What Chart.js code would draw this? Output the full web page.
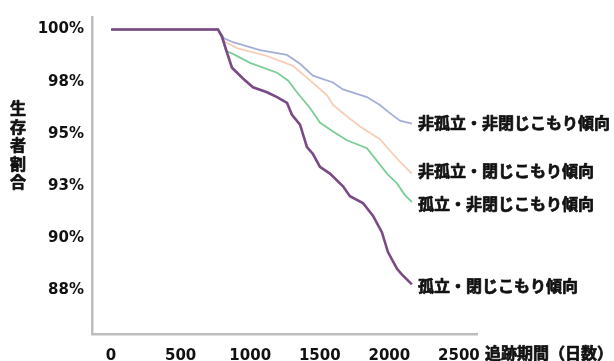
<!DOCTYPE html>
<html>
<head>
<meta charset="utf-8">
<script src="https://cdn.jsdelivr.net/npm/chart.js@4/dist/chart.umd.min.js"></script>
<style>
html,body{margin:0;padding:0;background:#fff;}
#wrap{width:614px;height:361px;position:relative;}
</style>
</head>
<body>
<div id="wrap"><canvas id="c" width="614" height="361"></canvas></div>
<script>
// ---- data ----
const seriesNames = ['孤立・閉じこもり傾向', '非孤立・非閉じこもり傾向', '非孤立・閉じこもり傾向', '孤立・非閉じこもり傾向'];

const isoHomeDays = [0,769,797,841,869,948,1020,1121,1193,1265,1300,1358,1408,1451,1501,1573,1667,1717,1810,1882,1947,1990,2055,2091,2162];
const isoHomeVals = [100,100,99.67,98.73,98.17,97.65,97.23,96.99,96.76,96.48,95.91,95.44,94.36,94.03,93.42,93.09,92.48,92.01,91.68,91.07,90.27,89.33,88.53,88.25,87.78];

const nonNonDays = [0,769,812,876,1070,1264,1358,1451,1595,1667,1839,1932,2004,2076,2162];
const nonNonVals = [100,100,99.58,99.39,99.01,98.78,98.36,97.79,97.46,97.13,96.76,96.38,95.99,95.63,95.49];

const nonHomeDays = [0,769,812,905,1121,1307,1430,1552,1595,1681,1789,1932,2026,2091,2162];
const nonHomeVals = [100,100,99.44,99.11,98.73,98.26,97.56,96.85,96.38,95.91,95.35,94.74,94.03,93.56,93.09];

const isoNonDays = [0,769,797,826,876,999,1193,1272,1336,1430,1501,1595,1695,1839,1911,1983,2055,2112,2162];
const isoNonVals = [100,100,99.58,98.97,98.83,98.40,97.93,97.56,96.99,96.24,95.54,95.11,94.69,94.31,93.70,93.09,92.62,92.06,91.73];

const xTickValues = [0,500,1000,1500,2000,2500];
const yTickValues = [87.5,90,92.5,95,97.5,100];
const yTickLabels = ['88%','90%','93%','95%','98%','100%'];
const xTitle = '追跡期間（日数）';
const yTitle = '生存者割合';

// ---- build ----
const pts = (d, v) => d.map((x, i) => ({x: x, y: v[i]}));
const colors = ['#7a4a86', '#a4aed8', '#f6cdb6', '#7ccd97'];
const widths = [2.6, 1.8, 1.8, 1.8];
const labelShift = [2, -1, -3, 2];
const seriesData = [pts(isoHomeDays, isoHomeVals), pts(nonNonDays, nonNonVals), pts(nonHomeDays, nonHomeVals), pts(isoNonDays, isoNonVals)];

function boldText(ctx, s, x, y) {
  ctx.strokeText(s, x, y);
  ctx.fillText(s, x, y);
}

const overlay = {
  id: 'overlay',
  afterDraw(chart) {
    const ctx = chart.ctx, xs = chart.scales.x, ys = chart.scales.y;
    ctx.save();
    ctx.fillStyle = '#111';
    ctx.strokeStyle = '#111';
    ctx.lineWidth = 0.7;
    ctx.lineJoin = 'round';
    ctx.font = 'bold 16px "Noto Sans CJK JP"';
    ctx.textBaseline = 'middle';
    ctx.textAlign = 'left';
    chart.data.datasets.forEach((ds, i) => {
      const last = ds.data[ds.data.length - 1];
      boldText(ctx, ds.label, xs.getPixelForValue(last.x) + 6, ys.getPixelForValue(last.y) + labelShift[i]);
    });
    boldText(ctx, xTitle, 485, 353);
    ctx.textAlign = 'center';
    ctx.font = 'bold 16px "Noto Sans CJK JP"';
    Array.from(yTitle).forEach((ch, i) => boldText(ctx, ch, 18, 108 + i * 18.5));
    ctx.restore();
  }
};

new Chart(document.getElementById('c'), {
  type: 'line',
  data: {
    datasets: seriesData.map((d, i) => ({
      label: seriesNames[i],
      data: d,
      borderColor: colors[i],
      borderWidth: widths[i],
      pointRadius: 0,
      fill: false,
      tension: 0
    }))
  },
  options: {
    responsive: false,
    animation: false,
    layout: {padding: {left: 0, right: 137, top: 10, bottom: 0}},
    plugins: {legend: {display: false}, tooltip: {enabled: false}},
    scales: {
      x: {
        type: 'linear',
        min: -137, max: 2630,
        grid: {display: false, drawTicks: false},
        border: {display: true, color: '#bdbdbd', width: 2.5},
        afterFit: s => { s.height = 27; },
        afterBuildTicks: s => { s.ticks = xTickValues.map(v => ({value: v})); },
        ticks: {
          padding: 13,
          color: '#111',
          maxRotation: 0,
          autoSkip: false,
          font: {family: 'DejaVu Sans', weight: 'bold', size: 15},
          callback: v => String(v)
        }
      },
      y: {
        type: 'linear',
        min: 85.4, max: 100.6,
        grid: {display: false, drawTicks: false},
        border: {display: true, color: '#bdbdbd', width: 2.5},
        afterFit: s => { s.width = 92; },
        afterBuildTicks: s => { s.ticks = yTickValues.map(v => ({value: v})); },
        ticks: {
          padding: 8,
          color: '#111',
          autoSkip: false,
          font: {family: 'DejaVu Sans', weight: 'bold', size: 15},
          callback: (v, i) => yTickLabels[i]
        }
      }
    }
  },
  plugins: [overlay]
});
</script>
</body>
</html>
